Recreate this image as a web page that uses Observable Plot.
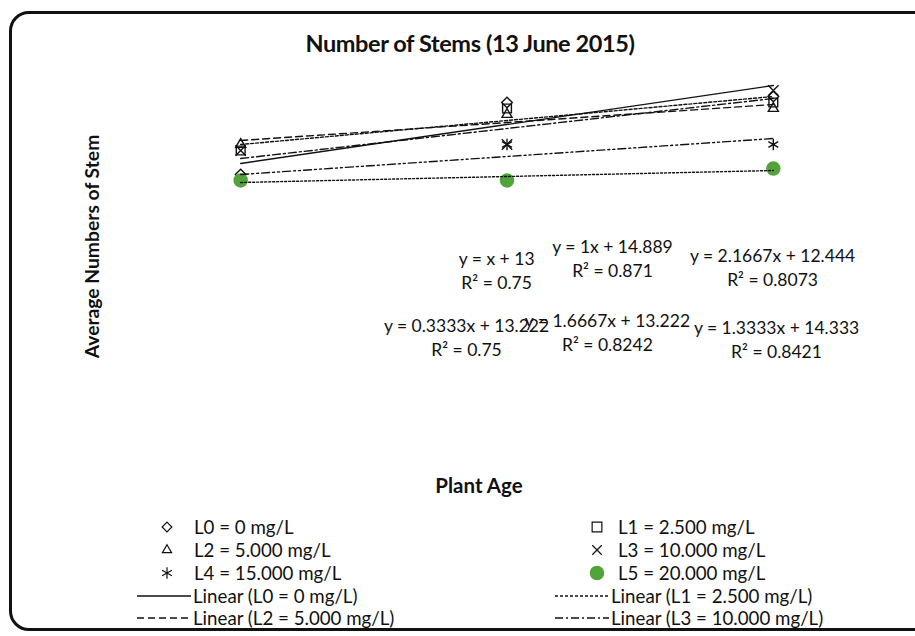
<!DOCTYPE html>
<html>
<head>
<meta charset="utf-8">
<script src="https://cdn.jsdelivr.net/npm/d3@7"></script>
<script src="https://cdn.jsdelivr.net/npm/@observablehq/plot@0.6"></script>
<style>
  html, body { margin: 0; padding: 0; background: #fff; }
  #card { position: relative; width: 915px; height: 636px; overflow: hidden; background: #fff; font-family: Lato, "Open Sans", sans-serif; color: #111; }
  #frame { position: absolute; left: 9px; top: 11px; width: 980px; height: 620px; border: 3px solid #111; border-radius: 20px; box-sizing: border-box; }
  #title { position: absolute; left: 0; width: 940px; top: 29px; text-align: center; font-weight: bold; font-size: 23.5px; letter-spacing: -0.4px; }
  #chart { position: absolute; left: 0; top: 0; }
  .leg { position: absolute; font-size: 18.7px; line-height: 20px; white-space: nowrap; display: flex; align-items: center; }
  .leg svg { display: block; }
</style>
</head>
<body>
<div id="card">
  <div id="frame"></div>
  <div id="title">Number of Stems (13 June 2015)</div>
  <div id="chart"></div>
  <div id="legend"></div>
</div>
<script>
// ---- data ----
const plantAge = [1, 2, 3];
const seriesNames = ["L0 = 0 mg/L", "L1 = 2.500 mg/L", "L2 = 5.000 mg/L", "L3 = 10.000 mg/L", "L4 = 15.000 mg/L", "L5 = 20.000 mg/L"];
const L0 = [14.0, 18.0, 18.333];
const L1 = [15.333, 17.667, 18.0];
const L2 = [15.667, 17.333, 17.667];
const L3 = [15.333, 15.667, 18.667];
const L4 = [13.667, 15.667, 15.667];
const L5 = [13.667, 13.667, 14.333];
const equationText = ["y = 2.1667x + 12.444", "y = 1.3333x + 14.333", "y = 1x + 14.889", "y = 1.6667x + 13.222", "y = x + 13", "y = 0.3333x + 13.222"];
const r2Text = ["R² = 0.8073", "R² = 0.8421", "R² = 0.871", "R² = 0.8242", "R² = 0.75", "R² = 0.75"];
// label anchor positions in data units (plant age, stems)
const labelAge = [2.997, 3.012, 2.396, 2.377, 1.961, 1.848];
const labelStems = [8.89, 4.89, 9.39, 5.28, 8.72, 5.0];
const legendLines = ["Linear (L0 = 0 mg/L)", "Linear (L1 = 2.500 mg/L)", "Linear (L2 = 5.000 mg/L)", "Linear (L3 = 10.000 mg/L)"];

// ---- styles ----
const values = [L0, L1, L2, L3, L4, L5];
const symbols = ["diamond2", "square2", "triangle2", "times", "asterisk", "circle"];
const d3symbols = [d3.symbolDiamond2, d3.symbolSquare2, d3.symbolTriangle2, d3.symbolTimes, d3.symbolAsterisk, d3.symbolCircle];
const legendSizes = [60, 120, 60, 60, 90, 140];
const dashes = [null, "3,2", "7,4", "8,3,2,3", "8,3,2,3,2,3", "2,2"];
const green = "#52a33b";

const rows = [];
values.forEach((vals, i) => vals.forEach((v, j) => rows.push({series: seriesNames[i], i, age: plantAge[j], stems: v})));
const labels = seriesNames.map((s, i) => ({i, age: labelAge[i], stems: labelStems[i], text: equationText[i] + "\n" + r2Text[i]}));

const marks = [];
values.forEach((vals, i) => {
  const d = rows.filter(r => r.i === i);
  if (i === 5) {
    marks.push(Plot.dot(d, {x: "age", y: "stems", r: 6.5, fill: green, stroke: green}));
  } else {
    const r = i === 1 ? 5.6 : i === 4 ? 5.4 : 4.8;
    marks.push(Plot.dot(d, {x: "age", y: "stems", symbol: () => symbols[i], r, stroke: "#111", strokeWidth: 1.4, fill: "none"}));
  }
});
values.forEach((vals, i) => {
  const d = rows.filter(r => r.i === i);
  marks.push(Plot.linearRegressionY(d, {x: "age", y: "stems", ci: 0, stroke: "#111", strokeWidth: 1.4, strokeDasharray: dashes[i] || undefined}));
});
marks.push(Plot.text(labels, {x: "age", y: "stems", text: "text", fontSize: 17.5, lineHeight: 1.37, fill: "#111", textAnchor: "middle"}));
marks.push(Plot.text(["Average Numbers of Stem"], {frameAnchor: "left", textAnchor: "middle", rotate: -90, dx: -15, fontSize: 19.3, fontWeight: "bold", fill: "#111"}));
marks.push(Plot.text(["Plant Age"], {frameAnchor: "bottom", textAnchor: "middle", dx: -28, dy: 66, fontSize: 20.5, fontWeight: "bold", fill: "#111"}));

const chart = Plot.plot({
  width: 915,
  height: 500,
  marginLeft: 107,
  marginRight: 9,
  marginTop: 66,
  marginBottom: 74,
  style: {background: "transparent", fontFamily: "Lato, 'Open Sans', sans-serif", overflow: "visible"},
  x: {domain: [0.5, 3.5], axis: null},
  y: {domain: [0, 20], axis: null},
  marks
});
document.getElementById("chart").appendChild(chart);

// ---- legend ----
const legend = document.getElementById("legend");
function symSvg(i) {
  const path = d3.symbol(d3symbols[i], legendSizes[i])();
  const fill = i === 5 ? green : "none";
  const stroke = i === 5 ? green : "#111";
  return `<svg width="16" height="16" viewBox="-8 -8 16 16"><path d="${path}" fill="${fill}" stroke="${stroke}" stroke-width="1.2"/></svg>`;
}
function lineSvg(i) {
  const da = dashes[i] ? `stroke-dasharray="${dashes[i]}"` : "";
  return `<svg width="54" height="10"><line x1="0" x2="54" y1="5" y2="5" stroke="#111" stroke-width="1.4" ${da}/></svg>`;
}
const rowY = [527, 550, 573, 596, 618];
seriesNames.forEach((name, i) => {
  const col = i % 2, row = Math.floor(i / 2);
  const el = document.createElement("div");
  el.className = "leg";
  el.style.top = (rowY[row] - 10) + "px";
  el.style.left = (col === 0 ? 159 : 589) + "px";
  el.innerHTML = symSvg(i) + `<span style="margin-left:${col === 0 ? 19 : 13}px">${name}</span>`;
  legend.appendChild(el);
});
legendLines.forEach((name, i) => {
  const col = i % 2, row = 3 + Math.floor(i / 2);
  const el = document.createElement("div");
  el.className = "leg";
  el.style.top = (rowY[row] - 10) + "px";
  el.style.left = (col === 0 ? 137 : 555) + "px";
  el.innerHTML = lineSvg(i) + `<span style="margin-left:2px">${name}</span>`;
  legend.appendChild(el);
});
</script>
</body>
</html>
